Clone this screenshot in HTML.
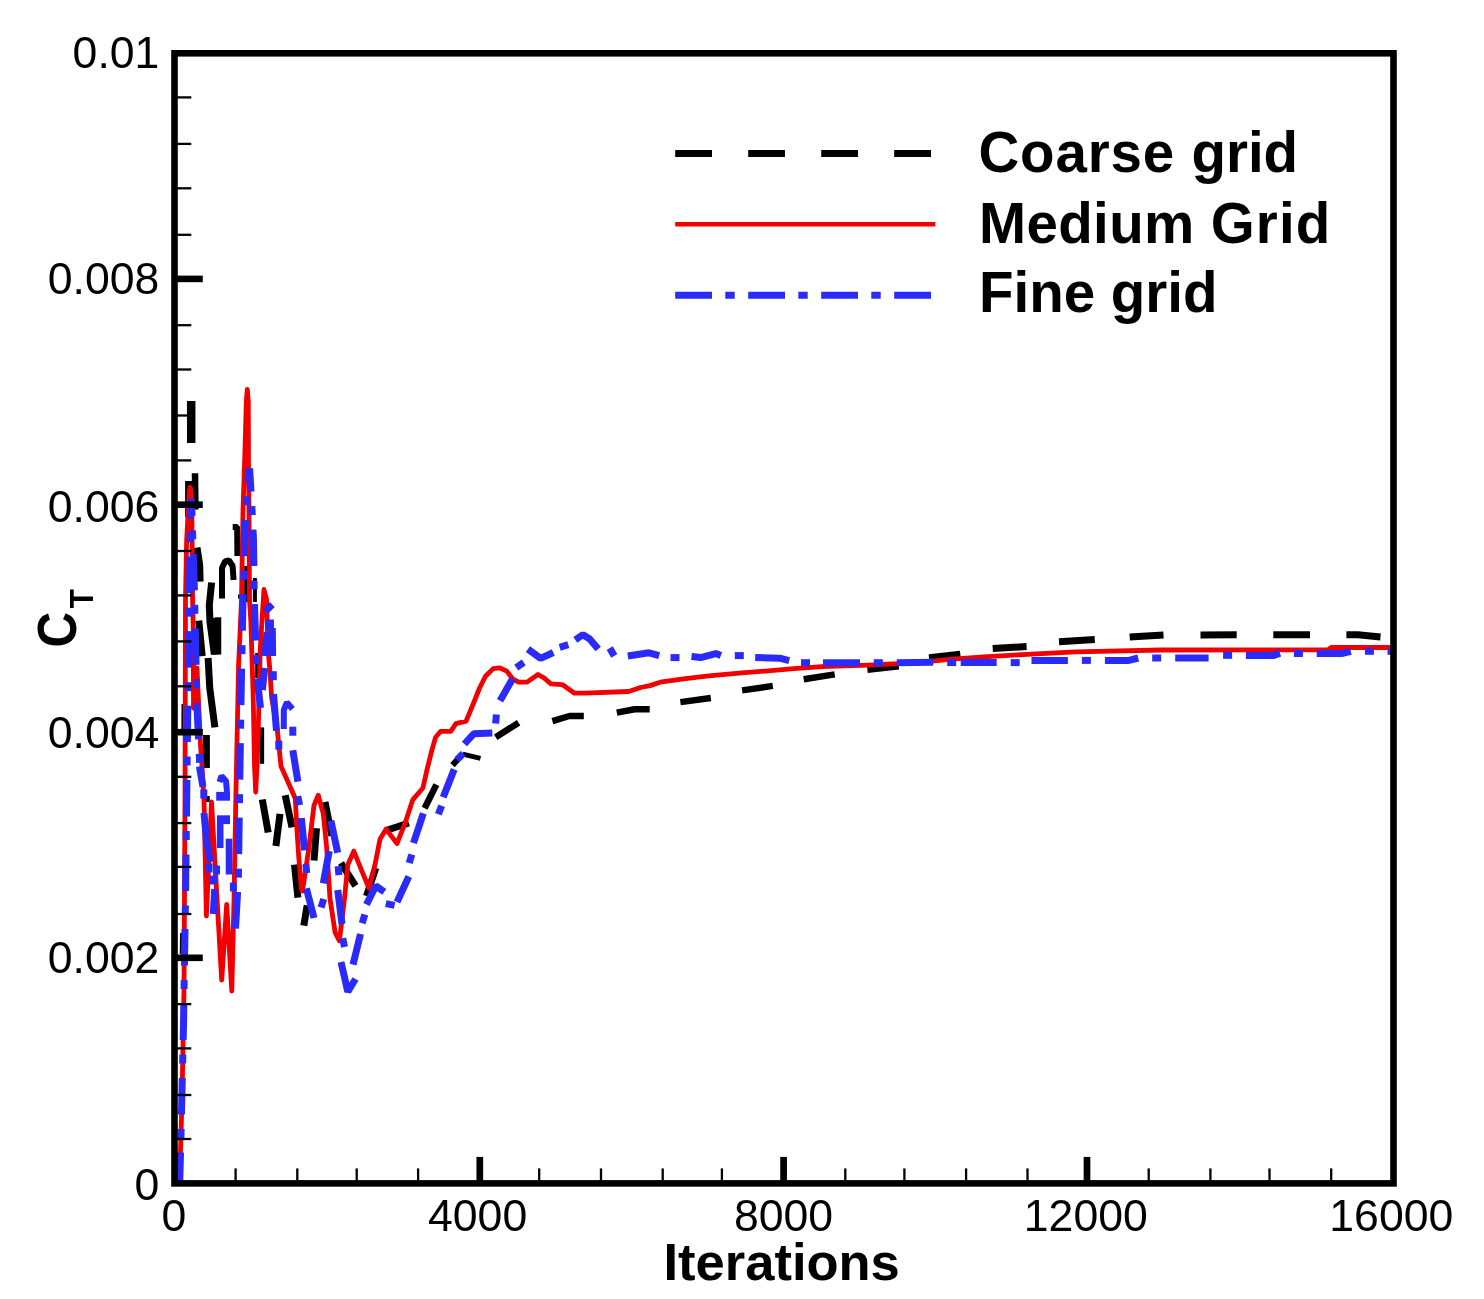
<!DOCTYPE html>
<html lang="en"><head><meta charset="utf-8"><title>Thrust coefficient convergence</title>
<style>html,body{margin:0;padding:0;background:#fff}body{width:1484px;height:1299px;overflow:hidden}svg{display:block}</style>
</head><body>
<svg width="1484" height="1299" viewBox="0 0 1484 1299">
<rect width="1484" height="1299" fill="#fff"/>
<g stroke-linecap="butt" stroke-linejoin="bevel">
<polyline points="182.9,729.0 183.0,704.0" fill="none" stroke="#000" stroke-width="3" />
<polyline points="181.2,954.0 181.6,933.0" fill="none" stroke="#000" stroke-width="3" />
<polyline points="191.2,443.0 191.2,401.0" fill="none" stroke="#000" stroke-width="8.5" />
<polyline points="188.6,517.2 188.6,481.0" fill="none" stroke="#000" stroke-width="7" />
<polyline points="195.0,473.2 195.4,509.6" fill="none" stroke="#000" stroke-width="6.5" />
<polyline points="196.5,547.7 199.2,565.0 199.6,581.6" fill="none" stroke="#000" stroke-width="8" />
<polyline points="211.6,582.5 209.3,605.0 210.0,622.0 214.4,654.5" fill="none" stroke="#000" stroke-width="7" />
<polyline points="218.0,654.5 218.0,617.3" fill="none" stroke="#000" stroke-width="6.5" />
<polyline points="213.8,618.0 216.0,654.5" fill="none" stroke="#000" stroke-width="6" />
<polyline points="222.0,598.5 222.0,568.0 225.0,561.5 229.0,560.5 232.6,566.0 233.6,580.0" fill="none" stroke="#000" stroke-width="6" />
<polyline points="232.7,527.0 237.2,527.0 237.4,556.0" fill="none" stroke="#000" stroke-width="6" />
<polyline points="238.0,596.5 240.0,596.5" fill="none" stroke="#000" stroke-width="4" />
<polyline points="246.2,566.0 246.2,602.0" fill="none" stroke="#000" stroke-width="4" />
<polyline points="254.9,578.0 254.9,602.0" fill="none" stroke="#000" stroke-width="4" />
<polyline points="198.8,620.6 202.2,656.2" fill="none" stroke="#000" stroke-width="7" />
<polyline points="208.1,658.0 209.8,688.4 214.9,727.4" fill="none" stroke="#000" stroke-width="7" />
<polyline points="206.4,735.0 206.4,768.0" fill="none" stroke="#000" stroke-width="7" />
<polyline points="256.7,653.0 256.7,678.0" fill="none" stroke="#000" stroke-width="3" />
<polyline points="261.9,727.4 261.9,763.8" fill="none" stroke="#000" stroke-width="4.5" />
<polyline points="203.0,799.0 209.8,799.0" fill="none" stroke="#000" stroke-width="6" />
<polyline points="262.3,799.5 268.2,832.5" fill="none" stroke="#000" stroke-width="7" />
<polyline points="280.0,813.9 275.9,846.0" fill="none" stroke="#000" stroke-width="7" />
<polyline points="285.2,795.2 292.0,827.4" fill="none" stroke="#000" stroke-width="7" />
<polyline points="294.5,864.7 297.9,897.7" fill="none" stroke="#000" stroke-width="7" />
<polyline points="307.2,905.3 303.8,925.7" fill="none" stroke="#000" stroke-width="7" />
<polyline points="316.5,828.3 314.0,860.5" fill="none" stroke="#000" stroke-width="7" />
<polyline points="325.0,802.0 331.8,835.9" fill="none" stroke="#000" stroke-width="7" />
<polyline points="341.0,863.0 355.5,885.9" fill="none" stroke="#000" stroke-width="7" />
<polyline points="366.5,896.0 375.8,868.0" fill="none" stroke="#000" stroke-width="7" />
<polyline points="387.6,830.0 408.8,823.0" fill="none" stroke="#000" stroke-width="7" />
<polyline points="424.6,808.3 436.4,784.6" fill="none" stroke="#000" stroke-width="6.5" />
<polyline points="452.5,765.1 462.7,754.1" fill="none" stroke="#000" stroke-width="6" />
<polyline points="462.7,754.1 480.5,758.4" fill="none" stroke="#000" stroke-width="5" />
<polyline points="495.7,737.2 518.6,722.8" fill="none" stroke="#000" stroke-width="6.5" />
<polyline points="552.4,721.1 569.4,716.0 583.8,716.0" fill="none" stroke="#000" stroke-width="6.5" />
<polyline points="616.8,712.6 634.6,709.2 649.7,709.2" fill="none" stroke="#000" stroke-width="6.5" />
<polyline points="680.4,702.1 710.8,698.0" fill="none" stroke="#000" stroke-width="6.5" />
<polyline points="742.1,690.4 772.8,685.9" fill="none" stroke="#000" stroke-width="6.5" />
<polyline points="803.7,679.2 834.7,674.4" fill="none" stroke="#000" stroke-width="6.5" />
<polyline points="867.4,669.7 898.8,666.3" fill="none" stroke="#000" stroke-width="6.5" />
<polyline points="929.0,657.5 960.3,654.0" fill="none" stroke="#000" stroke-width="6.5" />
<polyline points="992.7,648.6 1026.6,646.6" fill="none" stroke="#000" stroke-width="7" />
<polyline points="1059.0,641.7 1094.8,639.6" fill="none" stroke="#000" stroke-width="7" />
<polyline points="1129.7,637.1 1163.5,635.1" fill="none" stroke="#000" stroke-width="7" />
<polyline points="1200.5,635.1 1236.7,634.8" fill="none" stroke="#000" stroke-width="7" />
<polyline points="1273.3,634.8 1310.0,634.8" fill="none" stroke="#000" stroke-width="7" />
<polyline points="1346.4,634.8 1357.9,634.8 1380.5,637.1" fill="none" stroke="#000" stroke-width="7" />
<polyline points="179.5,1186.0 182.0,1100.0 184.0,990.0 185.0,800.0 185.5,600.0 186.6,541.0 188.0,515.0 189.4,491.0 190.2,487.3 191.0,491.0 191.8,501.0 192.0,532.0 192.6,600.0 193.3,631.0 193.5,708.0 197.0,668.0 200.5,745.0 202.0,766.0 204.0,800.0 206.4,916.0 211.5,802.0 221.7,980.0 226.7,904.5 231.8,991.0 234.0,900.0 236.0,790.0 238.6,665.0 241.5,600.0 243.0,510.0 245.0,450.0 246.3,402.0 247.3,389.3 248.3,402.0 248.5,465.0 249.0,515.0 249.5,600.0 250.8,620.0 253.3,700.0 254.5,765.0 255.7,792.0 257.0,766.0 258.4,724.0 260.2,651.0 262.0,620.0 264.0,589.5 266.5,599.0 268.2,651.0 270.0,671.5 271.6,697.0 277.6,732.4 281.0,766.3 288.6,783.2 295.3,798.5 297.0,830.8 298.7,856.2 301.3,888.4 302.5,891.0 308.9,847.8 314.0,805.4 318.2,795.2 323.3,813.9 326.7,847.8 330.0,898.6 335.1,932.4 339.4,940.9 344.5,898.6 347.8,864.7 353.8,851.1 361.4,869.8 369.0,888.4 375.0,864.7 380.0,839.3 386.0,829.1 397.0,843.5 405.4,822.3 412.7,799.9 422.9,788.0 427.1,769.4 431.3,752.4 435.6,737.2 440.7,731.3 450.8,731.3 455.9,723.6 466.1,721.1 472.8,705.0 479.6,688.0 485.5,676.2 493.2,668.6 499.9,667.8 506.7,671.1 512.6,678.8 518.6,682.1 527.0,682.1 538.0,674.5 544.0,677.9 550.7,683.8 562.6,684.7 574.5,693.2 584.6,693.2 628.7,691.5 640.5,687.5 650.0,685.6 660.2,682.2 683.5,678.8 708.7,675.8 739.0,673.2 768.4,670.8 793.6,668.7 822.0,666.7 868.4,665.1 896.7,663.7 930.0,661.3 949.2,659.4 983.6,656.8 1027.0,654.4 1075.5,651.8 1161.5,650.0 1328.0,649.9 1331.0,647.5 1393.0,647.5" fill="none" stroke="#f00000" stroke-width="4.8" stroke-linejoin="round"/>
<polyline points="199.4,766.3 203.0,786.8" fill="none" stroke="#2a2afa" stroke-width="7" />
<polyline points="203.8,789.5 203.8,798.5" fill="none" stroke="#2a2afa" stroke-width="7" />
<polyline points="204.0,813.0 206.5,840.0 210.5,862.0" fill="none" stroke="#2a2afa" stroke-width="7" />
<polyline points="216.5,865.5 216.5,874.5" fill="none" stroke="#2a2afa" stroke-width="7" />
<polyline points="209.0,863.5 209.0,872.5" fill="none" stroke="#2a2afa" stroke-width="7" />
<polyline points="213.3,875.5 213.3,884.5" fill="none" stroke="#2a2afa" stroke-width="7" />
<polyline points="214.7,889.0 213.3,914.0" fill="none" stroke="#2a2afa" stroke-width="7" />
<polyline points="219.5,782.0 221.5,776.0 226.0,781.0 227.0,792.0" fill="none" stroke="#2a2afa" stroke-width="6" />
<polyline points="216.2,796.3 230.0,796.3" fill="none" stroke="#2a2afa" stroke-width="8.8" />
<polyline points="217.0,819.7 230.0,819.7" fill="none" stroke="#2a2afa" stroke-width="8.8" />
<polyline points="220.2,824.0 220.2,848.0" fill="none" stroke="#2a2afa" stroke-width="6.6" />
<polyline points="229.0,838.7 229.0,874.5" fill="none" stroke="#2a2afa" stroke-width="6.6" />
<polyline points="233.4,882.5 233.4,891.5" fill="none" stroke="#2a2afa" stroke-width="7" />
<polyline points="262.3,690.0 264.7,668.0" fill="none" stroke="#2a2afa" stroke-width="7" />
<polyline points="265.0,656.0 267.0,632.0" fill="none" stroke="#2a2afa" stroke-width="7" />
<polyline points="265.3,611.5 272.3,604.5" fill="none" stroke="#2a2afa" stroke-width="7" />
<polyline points="269.7,619.5 269.7,630.0" fill="none" stroke="#2a2afa" stroke-width="8.5" />
<polyline points="272.3,628.0 272.6,656.0" fill="none" stroke="#2a2afa" stroke-width="7" />
<polyline points="273.3,671.2 273.3,680.2" fill="none" stroke="#2a2afa" stroke-width="7" />
<polyline points="273.5,694.0 276.5,730.7" fill="none" stroke="#2a2afa" stroke-width="7" />
<polyline points="278.8,740.6 278.8,749.6" fill="none" stroke="#2a2afa" stroke-width="7" />
<polyline points="283.8,729.0 283.8,710.0 286.9,702.5 292.5,709.0" fill="none" stroke="#2a2afa" stroke-width="6" />
<polyline points="292.8,726.7 292.8,735.7" fill="none" stroke="#2a2afa" stroke-width="7" />
<polyline points="292.8,750.2 297.9,781.6" fill="none" stroke="#2a2afa" stroke-width="7" />
<polyline points="297.8,796.3 299.6,805.1" fill="none" stroke="#2a2afa" stroke-width="7" />
<polyline points="301.3,818.0 304.6,850.3" fill="none" stroke="#2a2afa" stroke-width="7" />
<polyline points="305.9,864.0 306.7,873.0" fill="none" stroke="#2a2afa" stroke-width="7" />
<polyline points="306.4,888.4 314.0,918.0" fill="none" stroke="#2a2afa" stroke-width="7" />
<polyline points="321.1,907.5 323.7,898.9" fill="none" stroke="#2a2afa" stroke-width="7" />
<polyline points="323.3,883.3 329.2,851.0" fill="none" stroke="#2a2afa" stroke-width="7" />
<polyline points="330.9,820.6 337.7,852.8" fill="none" stroke="#2a2afa" stroke-width="7" />
<polyline points="338.1,866.1 338.9,875.1" fill="none" stroke="#2a2afa" stroke-width="7" />
<polyline points="337.7,890.0 342.0,924.0" fill="none" stroke="#2a2afa" stroke-width="7" />
<polyline points="342.7,938.2 344.5,947.0" fill="none" stroke="#2a2afa" stroke-width="7" />
<polyline points="341.0,962.0 347.8,991.7 355.5,979.0" fill="none" stroke="#2a2afa" stroke-width="7" />
<polyline points="353.0,964.6 360.5,934.0" fill="none" stroke="#2a2afa" stroke-width="7" />
<polyline points="362.2,923.2 364.8,914.6" fill="none" stroke="#2a2afa" stroke-width="7" />
<polyline points="366.5,904.5 375.8,885.9 384.3,891.8" fill="none" stroke="#2a2afa" stroke-width="7" />
<polyline points="385.8,903.6 394.6,905.4" fill="none" stroke="#2a2afa" stroke-width="7" />
<polyline points="397.0,902.0 408.8,876.5" fill="none" stroke="#2a2afa" stroke-width="7" />
<polyline points="409.2,863.1 411.8,854.5" fill="none" stroke="#2a2afa" stroke-width="7" />
<polyline points="413.5,843.0 423.3,813.4" fill="none" stroke="#2a2afa" stroke-width="7" />
<polyline points="438.3,814.2 441.7,805.8" fill="none" stroke="#2a2afa" stroke-width="7" />
<polyline points="443.2,797.3 454.2,769.4" fill="none" stroke="#2a2afa" stroke-width="7" />
<polyline points="456.9,759.8 463.3,753.4" fill="none" stroke="#2a2afa" stroke-width="7" />
<polyline points="464.4,744.0 473.7,733.8 492.3,733.0" fill="none" stroke="#2a2afa" stroke-width="7" />
<polyline points="495.6,723.5 496.4,714.5" fill="none" stroke="#2a2afa" stroke-width="7" />
<polyline points="500.0,700.8 512.6,678.8" fill="none" stroke="#2a2afa" stroke-width="7" />
<polyline points="516.3,667.6 523.7,662.4" fill="none" stroke="#2a2afa" stroke-width="7" />
<polyline points="527.9,649.1 540.6,658.4 553.3,652.5" fill="none" stroke="#2a2afa" stroke-width="7" />
<polyline points="559.7,647.3 568.3,644.7" fill="none" stroke="#2a2afa" stroke-width="7" />
<polyline points="575.3,639.8 582.9,634.7 589.7,639.0 598.2,649.1" fill="none" stroke="#2a2afa" stroke-width="7" />
<polyline points="609.7,648.1 614.3,655.9" fill="none" stroke="#2a2afa" stroke-width="7" />
<polyline points="627.8,656.0 649.0,652.8 659.2,655.6" fill="none" stroke="#2a2afa" stroke-width="7" />
<polyline points="670.5,657.6 679.5,657.6" fill="none" stroke="#2a2afa" stroke-width="7" />
<polyline points="691.5,656.6 700.6,657.6 715.8,653.6 720.9,655.6" fill="none" stroke="#2a2afa" stroke-width="7" />
<polyline points="734.8,655.6 743.8,655.6" fill="none" stroke="#2a2afa" stroke-width="7" />
<polyline points="755.2,657.6 779.5,658.2 789.2,660.6" fill="none" stroke="#2a2afa" stroke-width="7" />
<polyline points="801.0,662.7 810.0,662.7" fill="none" stroke="#2a2afa" stroke-width="7" />
<polyline points="823.0,662.7 860.0,662.7" fill="none" stroke="#2a2afa" stroke-width="7" />
<polyline points="873.8,662.7 882.8,662.7" fill="none" stroke="#2a2afa" stroke-width="7" />
<polyline points="896.7,662.7 933.1,662.3" fill="none" stroke="#2a2afa" stroke-width="7" />
<polyline points="947.2,662.6 956.2,662.6" fill="none" stroke="#2a2afa" stroke-width="7" />
<polyline points="960.7,662.6 996.7,662.6" fill="none" stroke="#2a2afa" stroke-width="7" />
<polyline points="1010.7,662.6 1019.7,662.6" fill="none" stroke="#2a2afa" stroke-width="7" />
<polyline points="1031.5,660.4 1067.9,660.4" fill="none" stroke="#2a2afa" stroke-width="7" />
<polyline points="1081.9,660.4 1090.9,660.4" fill="none" stroke="#2a2afa" stroke-width="7" />
<polyline points="1104.9,660.4 1129.0,660.4 1138.2,658.0" fill="none" stroke="#2a2afa" stroke-width="7" />
<polyline points="1152.2,658.0 1161.2,658.0" fill="none" stroke="#2a2afa" stroke-width="7" />
<polyline points="1175.2,658.0 1208.6,658.0" fill="none" stroke="#2a2afa" stroke-width="7" />
<polyline points="1223.1,655.3 1232.1,655.3" fill="none" stroke="#2a2afa" stroke-width="7" />
<polyline points="1245.9,655.6 1273.1,655.6 1280.0,653.3" fill="none" stroke="#2a2afa" stroke-width="7" />
<polyline points="1293.9,653.5 1302.9,653.5" fill="none" stroke="#2a2afa" stroke-width="7" />
<polyline points="1316.7,653.5 1341.6,653.5 1350.8,651.3" fill="none" stroke="#2a2afa" stroke-width="7" />
<polyline points="1364.9,651.3 1373.9,651.3" fill="none" stroke="#2a2afa" stroke-width="7" />
<polyline points="1387.5,651.3 1393.0,651.3" fill="none" stroke="#2a2afa" stroke-width="7" />
<polyline points="179.7,1183.5 181.0,1135.0 183.5,1025.0 185.6,890.0 187.8,707.0 189.5,594.0 190.5,520.0 191.3,499.0 192.2,520.0 194.5,594.0 197.0,707.0 199.4,757.0 199.8,767.0" fill="none" stroke="#2a2afa" stroke-width="7" stroke-dasharray="36.5 14.5 9 14.5" stroke-dashoffset="5.5"/>
<polyline points="235.5,928.5 238.3,880.0 239.5,800.0 241.0,700.0 243.0,600.0 245.5,520.0 248.0,480.0 249.6,468.5 251.5,500.0 253.5,540.0 254.3,600.0 256.0,650.0 258.5,690.0 260.5,708.0" fill="none" stroke="#2a2afa" stroke-width="7" stroke-dasharray="36.5 14.5 9 14.5" stroke-dashoffset="0"/>
</g>
<g stroke="#000" fill="none">
<rect x="174.5" y="53.3" width="1219.0" height="1130.1" stroke-width="6.6"/>
<line x1="174.5" y1="97.4" x2="191.3" y2="97.4" stroke-width="2.3"/>
<line x1="174.5" y1="143.9" x2="191.3" y2="143.9" stroke-width="2.3"/>
<line x1="174.5" y1="188.3" x2="191.3" y2="188.3" stroke-width="2.3"/>
<line x1="174.5" y1="234.8" x2="191.3" y2="234.8" stroke-width="2.3"/>
<line x1="174.5" y1="278.9" x2="202.8" y2="278.9" stroke-width="6.6"/>
<line x1="174.5" y1="325.2" x2="191.3" y2="325.2" stroke-width="2.3"/>
<line x1="174.5" y1="369.5" x2="191.3" y2="369.5" stroke-width="2.3"/>
<line x1="174.5" y1="415.5" x2="191.3" y2="415.5" stroke-width="2.3"/>
<line x1="174.5" y1="460.4" x2="191.3" y2="460.4" stroke-width="2.3"/>
<line x1="174.5" y1="504.7" x2="202.8" y2="504.7" stroke-width="6.6"/>
<line x1="174.5" y1="551.0" x2="191.3" y2="551.0" stroke-width="2.3"/>
<line x1="174.5" y1="595.4" x2="191.3" y2="595.4" stroke-width="2.3"/>
<line x1="174.5" y1="641.4" x2="191.3" y2="641.4" stroke-width="2.3"/>
<line x1="174.5" y1="686.3" x2="191.3" y2="686.3" stroke-width="2.3"/>
<line x1="174.5" y1="732.2" x2="202.8" y2="732.2" stroke-width="6.6"/>
<line x1="174.5" y1="776.8" x2="191.3" y2="776.8" stroke-width="2.3"/>
<line x1="174.5" y1="823.1" x2="191.3" y2="823.1" stroke-width="2.3"/>
<line x1="174.5" y1="866.9" x2="191.3" y2="866.9" stroke-width="2.3"/>
<line x1="174.5" y1="914.0" x2="191.3" y2="914.0" stroke-width="2.3"/>
<line x1="174.5" y1="957.8" x2="202.8" y2="957.8" stroke-width="6.6"/>
<line x1="174.5" y1="1004.1" x2="191.3" y2="1004.1" stroke-width="2.3"/>
<line x1="174.5" y1="1048.4" x2="191.3" y2="1048.4" stroke-width="2.3"/>
<line x1="174.5" y1="1095.0" x2="191.3" y2="1095.0" stroke-width="2.3"/>
<line x1="174.5" y1="1139.0" x2="191.3" y2="1139.0" stroke-width="2.3"/>
<line x1="235.6" y1="1183.4" x2="235.6" y2="1168.4" stroke-width="2.3"/>
<line x1="297.3" y1="1183.4" x2="297.3" y2="1168.4" stroke-width="2.3"/>
<line x1="356.7" y1="1183.4" x2="356.7" y2="1168.4" stroke-width="2.3"/>
<line x1="418.1" y1="1183.4" x2="418.1" y2="1168.4" stroke-width="2.3"/>
<line x1="479.8" y1="1183.4" x2="479.8" y2="1156.9" stroke-width="6.7"/>
<line x1="539.2" y1="1183.4" x2="539.2" y2="1168.4" stroke-width="2.3"/>
<line x1="601.0" y1="1183.4" x2="601.0" y2="1168.4" stroke-width="2.3"/>
<line x1="662.7" y1="1183.4" x2="662.7" y2="1168.4" stroke-width="2.3"/>
<line x1="721.9" y1="1183.4" x2="721.9" y2="1168.4" stroke-width="2.3"/>
<line x1="783.6" y1="1183.4" x2="783.6" y2="1156.9" stroke-width="6.7"/>
<line x1="845.3" y1="1183.4" x2="845.3" y2="1168.4" stroke-width="2.3"/>
<line x1="904.4" y1="1183.4" x2="904.4" y2="1168.4" stroke-width="2.3"/>
<line x1="966.1" y1="1183.4" x2="966.1" y2="1168.4" stroke-width="2.3"/>
<line x1="1027.5" y1="1183.4" x2="1027.5" y2="1168.4" stroke-width="2.3"/>
<line x1="1087.0" y1="1183.4" x2="1087.0" y2="1156.9" stroke-width="6.7"/>
<line x1="1148.7" y1="1183.4" x2="1148.7" y2="1168.4" stroke-width="2.3"/>
<line x1="1210.4" y1="1183.4" x2="1210.4" y2="1168.4" stroke-width="2.3"/>
<line x1="1269.5" y1="1183.4" x2="1269.5" y2="1168.4" stroke-width="2.3"/>
<line x1="1331.2" y1="1183.4" x2="1331.2" y2="1168.4" stroke-width="2.3"/>
</g>
<line x1="675.2" y1="153.4" x2="931" y2="153.4" stroke="#000" stroke-width="7" stroke-dasharray="36.8 36.2"/>
<line x1="675.2" y1="224.3" x2="935.3" y2="224.3" stroke="#f00000" stroke-width="4.6"/>
<line x1="675.2" y1="295.3" x2="931" y2="295.3" stroke="#2a2afa" stroke-width="7" stroke-dasharray="36.8 13.3 9.4 13.5"/>
<g font-family="'Liberation Sans', Arial, Helvetica, sans-serif" fill="#000">
<g font-weight="bold" font-size="56.5">
<text x="978.5" y="172.3"><tspan letter-spacing="0.8">Coarse </tspan>grid</text>
<text x="979" y="242.6"><tspan letter-spacing="0.36">Medium </tspan><tspan letter-spacing="1.15">Grid</tspan></text>
<text x="979" y="312.3">Fine grid</text>
</g>
<g font-size="44.6" text-anchor="end">
<text x="159.4" y="68.2">0.01</text>
<text x="159.4" y="294">0.008</text>
<text x="159.4" y="521.7">0.006</text>
<text x="159.4" y="747.5">0.004</text>
<text x="159.4" y="973.2">0.002</text>
<text x="159.4" y="1200.3">0</text>
</g>
<g font-size="44.6" text-anchor="middle">
<text x="174" y="1231">0</text>
<text x="477.6" y="1231">4000</text>
<text x="783.5" y="1231">8000</text>
<text x="1085.8" y="1231">12000</text>
<text x="1391.3" y="1231">16000</text>
</g>
<text x="663.5" y="1280" font-weight="bold" font-size="52.5">Iterations</text>
<text transform="translate(76.4,647.4) rotate(-90) scale(0.88,1)" font-weight="bold" font-size="56.2">C</text>
<text transform="translate(93,608.3) rotate(-90) scale(0.93,1)" font-weight="bold" font-size="33.5">T</text>
</g>
</svg>
</body></html>
